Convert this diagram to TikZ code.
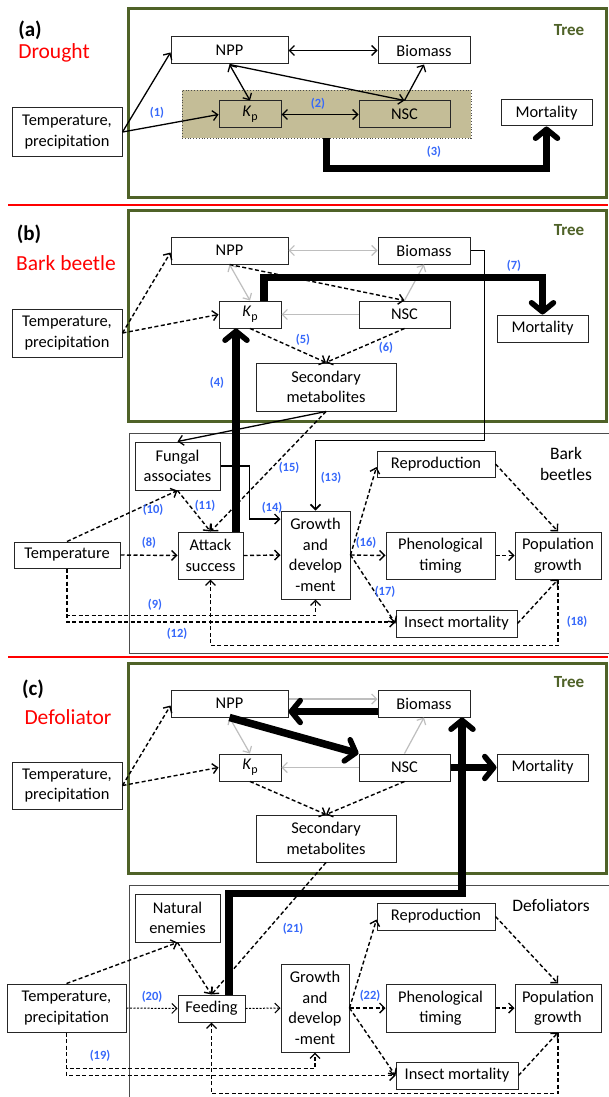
\documentclass[tikz,border=0pt]{standalone}
\usepackage{fontspec}
\setmainfont{Carlito}
\usetikzlibrary{arrows.meta}
\definecolor{treegreen}{RGB}{79,98,40}
\definecolor{lblue}{RGB}{55,105,250}
\definecolor{shadetan}{RGB}{196,189,151}
\definecolor{lgray}{RGB}{190,190,190}
\newcommand\bxf{\fontsize{16.4}{20.5}\selectfont}
\newcommand\lbf{\fontsize{12.5}{13}\selectfont\bfseries}
\newcommand\Kp{\textit{K}\raisebox{-4pt}{\fontsize{12}{12}\selectfont p}}
\tikzset{
  bx/.style 2 args={draw=black!85, line width=1pt, fill=white, inner sep=0pt, align=center, font=\bxf, minimum width=#1, minimum height=#2},
  lbl/.style={text=lblue, font=\lbf, inner sep=0pt},
  sol/.style={line width=1.3pt, -{Straight Barb[length=5pt,width=10pt]}},
  dbl/.style={line width=1.3pt, {Straight Barb[length=5pt,width=10pt]}-{Straight Barb[length=5pt,width=10pt]}},
  dsh/.style={sol, line width=1.4pt, dash pattern=on 4pt off 2.5pt},
  fdsh/.style={line width=1pt, dash pattern=on 2pt off 1.5pt, -{Straight Barb[length=5pt,width=10pt]}},
  gry/.style={draw=lgray, line width=1.2pt, -{Straight Barb[length=5pt,width=10pt]}},
  gdbl/.style={draw=lgray, line width=1.2pt, {Straight Barb[length=5pt,width=10pt]}-{Straight Barb[length=5pt,width=10pt]}},
  thk/.style={line width=7.5pt, line join=miter, -{Straight Barb[length=9pt,width=22pt,line width=5.5pt,round]}},
  treebox/.style={draw=treegreen, line width=3pt},
  insbox/.style={draw=black!70, line width=1pt},
  redline/.style={draw=red, line width=2pt},
  panel/.style={font=\fontsize{21}{24}\selectfont\bfseries, inner sep=0pt},
  ptitle/.style={text=red, font=\fontsize{21.5}{24}\selectfont, inner sep=0pt},
  treelbl/.style={text=treegreen, font=\fontsize{17}{20}\selectfont\bfseries, inner sep=0pt},
  grplbl/.style={align=center, font=\fontsize{17.5}{21.5}\selectfont, inner sep=0pt}
}
\begin{document}
\begin{tikzpicture}[x=1pt,y=-1pt]
\useasboundingbox (0,0) rectangle (608,1097);
\fill[white] (0,0) rectangle (608,1097);
% ---------- backgrounds
\draw[treebox] (128,9) rectangle (606,197);
\draw[redline] (8,205) -- (608,205);
\draw[treebox] (128,210) rectangle (606,421);
\draw[insbox] (129,433) rectangle (609,653);
\draw[redline] (8,656.5) -- (608,656.5);
\draw[treebox] (128,663) rectangle (606,873);
\draw[insbox] (129,885) rectangle (609,1100);
\node[draw=black!70, dotted, line width=0.8pt, fill=shadetan, minimum width=289pt, minimum height=48pt, inner sep=0pt] (shA) at (326.5,114) {};

% ---------- panel (a)
\node[panel] (la) at (30,30) {(a)};
\node[ptitle] (ta) at (54,53) {Drought};
\node[treelbl] (treeA) at (569,30) {Tree};
\node[bx={110pt}{48pt}] (tpA) at (67,132) {Temperature,\\precipitation};
\node[bx={117pt}{27pt}] (nppA) at (229.5,50.5) {NPP};
\node[bx={92pt}{27pt}] (bioA) at (424,50.5) {Biomass};
\node[bx={62pt}{27pt}, fill=shadetan] (kpA) at (250,114.5) {\Kp};
\node[bx={91pt}{27pt}, fill=shadetan] (nscA) at (404.5,114.5) {NSC};
\node[bx={91pt}{26pt}] (morA) at (546.5,113) {Mortality};
\draw[sol] (tpA.east) -- ([yshift=-2pt]nppA.west);
\draw[sol] (tpA.east) -- (kpA.west);
\draw[dbl] (nppA.east) -- (bioA.west);
\draw[dbl] (nppA.south) -- (kpA.north);
\draw[sol] (nppA.south) -- (nscA.north);
\draw[sol] (nscA.north) -- (bioA.south);
\draw[dbl] (kpA.east) -- (nscA.west);
\draw[thk] (shA.south) |- ([yshift=-42pt]morA.south) -- (morA.south);
\node[lbl] (l1) at (157,113) {(1)};
\node[lbl] (l2) at (318,104) {(2)};
\node[lbl] (l3) at (434,152) {(3)};

% ---------- panel (b)
\node[panel] (lb) at (29,234) {(b)};
\node[ptitle] (tb) at (66,263) {Bark beetle};
\node[treelbl] (treeB) at (569,230) {Tree};
\node[bx={110pt}{48pt}] (tpB) at (67,333) {Temperature,\\precipitation};
\node[bx={117pt}{27pt}] (nppB) at (229.5,250.5) {NPP};
\node[bx={92pt}{27pt}] (bioB) at (424,250.5) {Biomass};
\node[bx={62pt}{27pt}] (kpB) at (250,314.5) {\Kp};
\node[bx={91pt}{27pt}] (nscB) at (404.5,314.5) {NSC};
\node[bx={91pt}{27pt}] (morB) at (542.5,328.5) {Mortality};
\node[bx={140pt}{48pt}] (smB) at (326,387) {Secondary\\metabolites};
\node[grplbl] (gb) at (566,464) {Bark\\beetles};
\node[bx={85pt}{48pt}] (fung) at (177.5,466) {Fungal\\associates};
\node[bx={65pt}{47pt}] (atk) at (210.5,555.5) {Attack\\success};
\node[bx={69pt}{88pt}] (grB) at (315.5,555) {Growth\\and\\develop\\-ment};
\node[bx={118pt}{26pt}] (repB) at (436,464) {Reproduction};
\node[bx={109pt}{47pt}] (phB) at (440.5,555.5) {Phenological\\timing};
\node[bx={86pt}{47pt}] (popB) at (558,555.5) {Population\\growth};
\node[bx={121pt}{27pt}] (imB) at (456.5,623.5) {Insect mortality};
\node[bx={106pt}{26pt}] (tmpB) at (67,555) {Temperature};

\draw[dsh] (tpB.east) -- ([yshift=-2pt]nppB.west);
\draw[dsh] (tpB.east) -- (kpB.west);
\draw[gdbl] (nppB.east) -- (bioB.west);
\draw[gdbl] (nppB.south) -- (kpB.north);
\draw[dsh] (nppB.south) -- (nscB.north);
\draw[gry] (nscB.north) -- (bioB.south);
\draw[gry] (nscB.west) -- (kpB.east);
\draw[dsh] (kpB.south) -- (smB.north);
\draw[dsh] (nscB.south) -- (smB.north);
\draw[sol, line width=1.6pt] (bioB.east) -| ([xshift=14pt,yshift=-190pt]bioB.east) -| (grB.north);
\draw[sol] (smB.south) -- (fung.north);
\draw[dsh] (smB.south) -- (atk.north);
\draw[sol] (fung.east) -| ([xshift=-31pt,yshift=36pt]grB.west) -- ([yshift=36pt]grB.west);
\draw[thk] ([xshift=25.5pt]atk.north) -- ([xshift=-14pt]kpB.south);
\draw[thk] ([xshift=14pt]kpB.north) |- ([yshift=37pt]morB.north) -- (morB.north);
\draw[dsh] (tmpB.east) -- (atk.west);
\draw[dsh] (tmpB.north) -- (fung.south);
\draw[dsh] (fung.south) -- (atk.north);
\draw[dsh] (atk.east) -- (grB.west);
\draw[dsh] (grB.east) -- ([yshift=-3pt]repB.west);
\draw[dsh] (grB.east) -- (phB.west);
\draw[dsh] (grB.east) -- (imB.west);
\draw[dsh] (repB.east) -- (popB.north);
\draw[dsh] (phB.east) -- (popB.west);
\draw[dsh] (imB.east) -- (popB.south);
\draw[dsh] (tmpB.south) |- ([yshift=-16pt]grB.south) -- (grB.south);
\draw[dsh] (tmpB.south) |- ([yshift=1.5pt]imB.west);
\draw[dsh] (popB.south) |- ([yshift=-66pt]atk.south) -- (atk.south);
\node[lbl] (l4) at (217,383) {(4)};
\node[lbl] (l5) at (303,340) {(5)};
\node[lbl] (l6) at (386,348) {(6)};
\node[lbl] (l7) at (514,266) {(7)};
\node[lbl] (l8) at (149,543) {(8)};
\node[lbl] (l9) at (155,605) {(9)};
\node[lbl] (l10) at (153,510) {(10)};
\node[lbl] (l11) at (205,506) {(11)};
\node[lbl] (l12) at (177,634) {(12)};
\node[lbl] (l13) at (331,478) {(13)};
\node[lbl] (l14) at (272,508) {(14)};
\node[lbl] (l15) at (289,468) {(15)};
\node[lbl] (l16) at (366,543) {(16)};
\node[lbl] (l17) at (385,592) {(17)};
\node[lbl] (l18) at (577,622) {(18)};

% ---------- panel (c)
\node[panel] (lc) at (33,689) {(c)};
\node[ptitle] (tc) at (68,717) {Defoliator};
\node[treelbl] (treeC) at (569,682) {Tree};
\node[bx={110pt}{47pt}] (tpC) at (67,785.5) {Temperature,\\precipitation};
\node[bx={117pt}{27pt}] (nppC) at (229.5,703.5) {NPP};
\node[bx={92pt}{27pt}] (bioC) at (424,703.5) {Biomass};
\node[bx={62pt}{27pt}] (kpC) at (250,767.5) {\Kp};
\node[bx={91pt}{27pt}] (nscC) at (404.5,767.5) {NSC};
\node[bx={91pt}{27pt}] (morC) at (542.5,767.5) {Mortality};
\node[bx={140pt}{47pt}] (smC) at (326,838.5) {Secondary\\metabolites};
\node[grplbl] (gc) at (551,905) {Defoliators};
\node[bx={85pt}{48pt}] (ne) at (177.5,918) {Natural\\enemies};
\node[bx={67pt}{27pt}] (fd) at (211.5,1008.5) {Feeding};
\node[bx={68pt}{88pt}] (grC) at (315,1008) {Growth\\and\\develop\\-ment};
\node[bx={118pt}{27pt}] (repC) at (436,916.5) {Reproduction};
\node[bx={109pt}{48pt}] (phC) at (440.5,1008) {Phenological\\timing};
\node[bx={86pt}{48pt}] (popC) at (558,1008) {Population\\growth};
\node[bx={122pt}{27pt}] (imC) at (457,1075.5) {Insect mortality};
\node[bx={119pt}{48pt}] (tpD) at (66.5,1008) {Temperature,\\precipitation};

\draw[dsh] (tpC.east) -- ([yshift=-2pt]nppC.west);
\draw[dsh] (tpC.east) -- (kpC.west);
\draw[gry] ([yshift=4.5pt]nppC.east) -- ([yshift=4.5pt]bioC.west);
\draw[gdbl] (nppC.south) -- (kpC.north);
\draw[gry] (nscC.north) -- (bioC.south);
\draw[gry] (nscC.west) -- (kpC.east);
\draw[dsh] (kpC.south) -- (smC.north);
\draw[dsh] (nscC.south) -- (smC.north);
\draw[dsh] (smC.south) -- (fd.north);
\draw[thk] ([yshift=-8pt]bioC.west) -- ([yshift=-8pt]nppC.east);
\draw[thk] (nppC.south) -- (nscC.north west);
\draw[thk] (nscC.east) -- (morC.west);
\draw[thk] ([xshift=17.5pt]fd.north) |- ([xshift=38pt,yshift=-176pt]bioC.south) -- ([xshift=38pt]bioC.south);
\draw[dsh] (tpD.north) -- (ne.south);
\draw[dsh] (ne.south) -- (fd.north);
\draw[fdsh] (tpD.east) -- (fd.west);
\draw[fdsh] (fd.east) -- (grC.west);
\draw[dsh] (grC.east) -- ([yshift=-3pt]repC.west);
\draw[dsh] (grC.east) -- (phC.west);
\draw[dsh] (grC.east) -- (imC.west);
\draw[dsh] (repC.east) -- (popC.north);
\draw[dsh] (phC.east) -- (popC.west);
\draw[dsh] (imC.east) -- (popC.south);
\draw[dsh] (tpD.south) |- ([yshift=-16pt]grC.south) -- (grC.south);
\draw[dsh] (tpD.south) |- (imC.west);
\draw[dsh] (popC.south) |- ([yshift=-71pt]fd.south) -- (fd.south);
\node[lbl] (l19) at (100,1056) {(19)};
\node[lbl] (l20) at (152,997) {(20)};
\node[lbl] (l21) at (293,929) {(21)};
\node[lbl] (l22) at (370,996) {(22)};
\end{tikzpicture}
\end{document}
